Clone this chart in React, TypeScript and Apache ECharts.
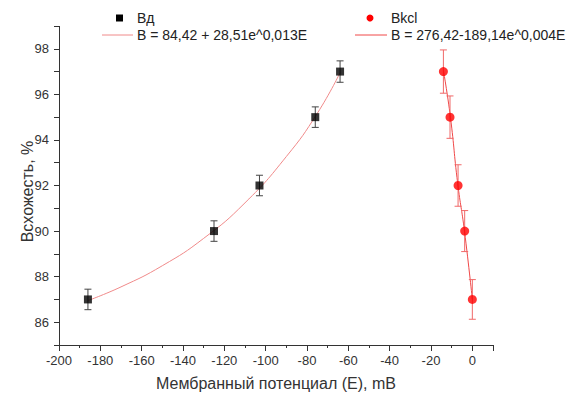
import React, { useEffect, useRef } from "react";
import * as echarts from "echarts";

// ---- data ----
const vdE = [-186, -125, -103, -76, -64];
const vdB = [87, 90, 92, 95, 97];
const vdErr = [0.45, 0.45, 0.45, 0.45, 0.47];

const kclE = [-14, -10.8, -6.9, -3.7, 0];
const kclB = [97, 95, 92, 90, 87];
const kclErr = [0.95, 0.93, 0.91, 0.9, 0.87];

const vdFitE = [-186, -170, -150, -130, -110, -90, -75, -64];
const vdFitB = [86.95, 87.55, 88.48, 89.68, 91.24, 93.27, 95.17, 96.95];

const kclFitE = [-14, -10.6, -7.1, -3.8, 0];
const kclFitB = [97.05, 95.0, 92.1, 90.0, 87.0];

const legendVd = "Вд";
const legendVdFit = "B = 84,42 + 28,51e^0,013E";
const legendKcl = "Bkcl";
const legendKclFit = "B = 276,42-189,14e^0,004E";

const xName = "Мембранный потенциал (Е), mB";
const yName = "Всхожесть, %";

const FONT = "'Liberation Sans', Arial, sans-serif";

const GRID = { left: 59, right: 76, top: 26, bottom: 49 };

function errorBarSeries(xs: number[], ys: number[], errs: number[], color: string) {
  return {
    type: "custom",
    data: xs.map((x, i) => [x, ys[i], errs[i]]),
    z: 3,
    renderItem: (_params: any, api: any) => {
      const x = api.value(0);
      const y = api.value(1);
      const e = api.value(2);
      const top = api.coord([x, y + e]);
      const bot = api.coord([x, y - e]);
      const hw = 3.5;
      const style = { stroke: color, lineWidth: 1, fill: "none" };
      return {
        type: "group",
        children: [
          { type: "line", shape: { x1: top[0], y1: top[1], x2: bot[0], y2: bot[1] }, style },
          { type: "line", shape: { x1: top[0] - hw, y1: top[1], x2: top[0] + hw, y2: top[1] }, style },
          { type: "line", shape: { x1: bot[0] - hw, y1: bot[1], x2: bot[0] + hw, y2: bot[1] }, style },
        ],
      };
    },
  };
}

export default function App() {
  const ref = useRef<HTMLDivElement>(null);
  useEffect(() => {
    if (!ref.current) return;
    const chart = echarts.init(ref.current, undefined, { renderer: "svg" });
    const H = 396;
    const axisLineStyle = { color: "#333", width: 1 };
    const labelStyle = { color: "#333", fontSize: 13, fontFamily: FONT };
    const legendText = { fontSize: 14, fontFamily: FONT, fill: "#222", verticalAlign: "middle" };
    chart.setOption({
      animation: false,
      backgroundColor: "#fff",
      textStyle: { fontFamily: FONT },
      grid: GRID,
      xAxis: {
        type: "value",
        min: -200,
        max: 10,
        interval: 20,
        name: xName,
        nameLocation: "middle",
        nameGap: 30,
        nameTextStyle: { color: "#333", fontSize: 16, fontFamily: FONT },
        axisLine: { show: true, onZero: false, lineStyle: axisLineStyle },
        axisTick: { show: true, length: 6, lineStyle: axisLineStyle },
        minorTick: { show: true, splitNumber: 2, length: 3, lineStyle: axisLineStyle },
        axisLabel: { showMaxLabel: false, margin: 9, ...labelStyle },
        splitLine: { show: false },
        minorSplitLine: { show: false },
      },
      yAxis: {
        type: "value",
        min: 85,
        max: 99,
        interval: 1,
        name: yName,
        nameLocation: "middle",
        nameGap: 24,
        nameMoveOverlap: false,
        nameTextStyle: { color: "#333", fontSize: 16, fontFamily: FONT, padding: [0, 12, 0, 0] },
        axisLine: { show: false, onZero: false },
        axisTick: { show: true, length: 5, lineStyle: axisLineStyle },
        axisLabel: {
          margin: 10,
          ...labelStyle,
          formatter: (v: number) => (Math.round(v) % 2 === 0 ? String(v) : ""),
        },
        splitLine: { show: false },
      },
      series: [
        {
          type: "line",
          data: vdFitE.map((x, i) => [x, vdFitB[i]]),
          smooth: true,
          showSymbol: false,
          symbol: "none",
          lineStyle: { color: "#f08a8a", width: 1 },
          z: 1,
        },
        {
          type: "line",
          data: kclFitE.map((x, i) => [x, kclFitB[i]]),
          smooth: true,
          showSymbol: false,
          symbol: "none",
          lineStyle: { color: "#f04848", width: 1 },
          z: 1,
        },
        errorBarSeries(vdE, vdB, vdErr, "#444"),
        errorBarSeries(kclE, kclB, kclErr, "#f06868"),
        {
          type: "scatter",
          data: vdE.map((x, i) => [x, vdB[i]]),
          symbol: "rect",
          symbolSize: 8,
          itemStyle: { color: "#000" },
          z: 4,
        },
        {
          type: "scatter",
          data: kclE.map((x, i) => [x, kclB[i]]),
          symbol: "circle",
          symbolSize: 9,
          itemStyle: { color: "#ff0000" },
          z: 4,
        },
      ],
      graphic: [
        {
          type: "line",
          shape: { x1: GRID.left + 0.5, y1: GRID.top, x2: GRID.left + 0.5, y2: H - GRID.bottom },
          style: { stroke: "#333", lineWidth: 1 },
          z: 5,
        },
        { type: "rect", shape: { x: 116, y: 14.5, width: 7, height: 7 }, style: { fill: "#000" } },
        { type: "text", x: 137, y: 18, style: { text: legendVd, ...legendText } },
        { type: "line", shape: { x1: 102, y1: 35, x2: 133, y2: 35 }, style: { stroke: "#f08a8a", lineWidth: 1 } },
        { type: "text", x: 137, y: 35, style: { text: legendVdFit, ...legendText } },
        { type: "circle", shape: { cx: 370, cy: 18, r: 3.5 }, style: { fill: "#ff0000" } },
        { type: "text", x: 391, y: 18, style: { text: legendKcl, ...legendText } },
        { type: "line", shape: { x1: 355, y1: 35, x2: 387, y2: 35 }, style: { stroke: "#f04848", lineWidth: 1 } },
        { type: "text", x: 391, y: 35, style: { text: legendKclFit, ...legendText } },
      ],
    });
    return () => chart.dispose();
  }, []);
  return (
    <div
      ref={ref}
      style={{ position: "fixed", left: 0, top: 0, width: 569, height: 396, background: "#fff" }}
    />
  );
}
